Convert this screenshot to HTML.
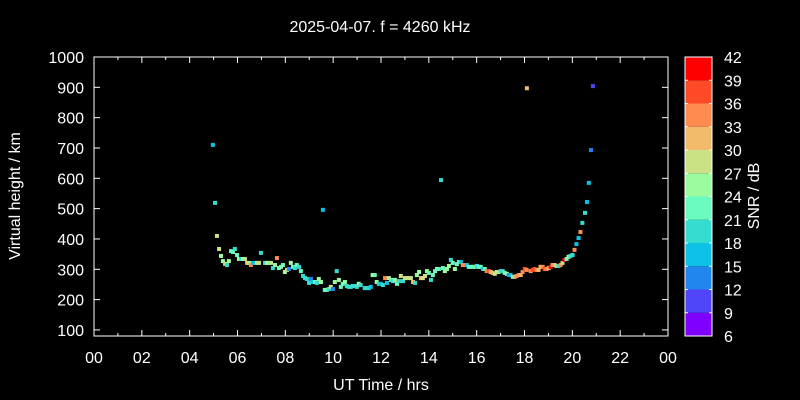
<!DOCTYPE html>
<html><head><meta charset="utf-8"><style>
html,body{margin:0;padding:0;background:#000;}
svg{display:block;font-family:"Liberation Sans",sans-serif;}
</style></head><body>
<svg id="chart" width="800" height="400" xmlns="http://www.w3.org/2000/svg">
<rect width="800" height="400" fill="#000"/>
<text x="380" y="32" fill="#fff" font-size="16" text-anchor="middle">2025-04-07. f = 4260 kHz</text>
<text x="381" y="390" fill="#fff" font-size="16" text-anchor="middle">UT Time / hrs</text>
<text transform="translate(20,196) rotate(-90)" fill="#fff" font-size="16" text-anchor="middle">Virtual height / km</text>
<text transform="translate(759,196) rotate(-90)" fill="#fff" font-size="16" text-anchor="middle">SNR / dB</text>
<g id="axes"></g><g id="marks"></g><g id="cbar"></g>
</svg>
<script>
const times=[4.97,5.06,5.14,5.23,5.31,5.39,5.48,5.56,5.64,5.73,5.81,5.89,5.98,6.06,6.15,6.23,6.31,6.40,6.48,6.56,6.65,6.73,6.81,6.90,6.98,7.15,7.23,7.32,7.40,7.48,7.57,7.65,7.73,7.82,7.90,7.98,8.07,8.15,8.23,8.32,8.40,8.48,8.57,8.65,8.74,8.82,8.90,8.99,9.07,9.15,9.24,9.32,9.40,9.49,9.57,9.65,9.74,9.82,9.90,9.99,10.07,10.15,10.24,10.32,10.40,10.49,10.57,10.65,10.74,10.82,10.90,10.99,11.07,11.15,11.32,11.40,11.49,11.57,11.65,11.74,11.82,11.91,11.99,12.08,12.17,12.25,12.33,12.42,12.50,12.58,12.67,12.75,12.83,12.92,13.00,13.09,13.17,13.25,13.34,13.42,13.50,13.59,13.67,13.75,13.84,13.92,14.00,14.09,14.17,14.26,14.34,14.42,14.51,14.59,14.67,14.76,14.84,14.92,15.00,15.09,15.17,15.26,15.34,15.42,15.51,15.59,15.67,15.76,15.84,15.92,16.01,16.09,16.17,16.26,16.34,16.42,16.51,16.59,16.67,16.76,16.84,16.92,17.01,17.09,17.17,17.26,17.34,17.42,17.51,17.59,17.67,17.76,17.84,17.92,18.01,18.09,18.10,18.26,18.34,18.42,18.51,18.59,18.67,18.76,18.84,18.92,19.01,19.09,19.17,19.26,19.34,19.42,19.51,19.59,19.67,19.76,19.84,19.92,20.01,20.09,20.17,20.26,20.34,20.42,20.53,20.61,20.69,20.78,20.86];
const heights=[710,519,410,367,344,327,318,314,327,360,357,367,347,334,334,334,334,321,321,314,321,321,321,321,354,321,321,321,321,304,314,337,304,308,314,291,298,301,321,308,304,314,308,294,278,271,268,255,268,258,258,255,268,258,496,232,232,235,242,235,258,294,265,242,252,258,245,242,242,245,245,242,252,248,238,238,238,242,281,281,258,252,252,248,271,255,271,265,261,265,252,261,278,261,271,271,271,271,258,255,281,291,271,271,278,294,288,265,281,294,301,301,594,304,294,301,311,331,321,301,317,324,324,314,314,314,308,308,308,308,311,308,308,301,301,294,294,291,288,285,291,291,294,294,288,285,281,281,275,275,278,281,281,291,301,298,897,294,298,301,298,298,308,308,301,301,304,308,314,314,311,311,314,321,331,334,341,344,347,364,383,403,423,453,486,522,585,693,904];
const snrs=[15,20,27,27,26,25,27,19,25,21,22,20,23,24,19,26,28,31,26,33,15,16,27,27,19,18,24,26,28,18,24,34,22,24,21,25,27,12,24,23,20,21,18,22,18,20,18,19,14,15,21,20,24,24,17,21,21,18,29,12,24,18,24,23,21,25,18,19,20,19,19,18,24,20,20,18,19,15,24,22,24,18,17,18,34,16,24,22,18,24,23,18,28,20,28,28,27,28,32,19,24,25,30,29,27,24,23,20,23,23,22,21,19,22,24,25,24,19,23,26,21,22,15,34,33,16,22,22,21,21,18,22,21,16,23,33,36,31,30,28,25,27,19,18,21,25,14,16,22,30,34,33,32,33,36,34,31,33,37,36,33,32,32,34,37,35,32,41,33,31,29,18,33,28,39,22,25,20,18,33,16,16,33,20,19,16,16,13,10];
const xTicks=["00","02","04","06","08","10","12","14","16","18","20","22","00"];
const yTicks=[100,200,300,400,500,600,700,800,900,1000];
const cbTicks=[6,9,12,15,18,21,24,27,30,33,36,39,42];
const cbColors=["#7f00ff","#5045f8","#2186ee","#0cc2e6","#35ddd0","#6cfbbf","#9cfa9f","#cbe185","#f2bb6b","#ff8b50","#ff4a27","#ff0000"];
const NS="http://www.w3.org/2000/svg";
const L=94,R=668,T=57,B=336;
const xs=t=>L+(t/24)*(R-L);
const ys=h=>B-(h-80)/(1000-80)*(B-T);
function mk(tag,at,parent){const e=document.createElementNS(NS,tag);for(const k in at)e.setAttribute(k,at[k]);parent.appendChild(e);return e;}
const ax=document.getElementById('axes');
const frame=mk('rect',{x:L,y:T,width:R-L,height:B-T,fill:'none',stroke:'#fff','stroke-width':1},ax);


xTicks.forEach((lab,i)=>{const x=xs(i*2);
 mk('line',{x1:x,y1:B,x2:x,y2:B-6,stroke:'#fff'},ax);mk('line',{x1:x,y1:T,x2:x,y2:T+6,stroke:'#fff'},ax);
 if(i<12){const xm=xs(i*2+1);mk('line',{x1:xm,y1:B,x2:xm,y2:B-3,stroke:'#fff'},ax);mk('line',{x1:xm,y1:T,x2:xm,y2:T+3,stroke:'#fff'},ax);}
 const t=mk('text',{x:x,y:363,fill:'#fff','font-size':16,'text-anchor':'middle'},ax);t.textContent=lab;
 
 });
yTicks.forEach(v=>{const y=ys(v);
 mk('line',{x1:L,y1:y,x2:L+6,y2:y,stroke:'#fff'},ax);mk('line',{x1:R,y1:y,x2:R-6,y2:y,stroke:'#fff'},ax);
 const t=mk('text',{x:84,y:y+6,fill:'#fff','font-size':16,'text-anchor':'end'},ax);t.textContent=v;
 
 });
function col(s){let i=Math.floor((s-6)/3);i=Math.max(0,Math.min(11,i));return cbColors[i];}
const mg=document.getElementById('marks');
times.forEach((t,i)=>{const r=mk('rect',{x:xs(t)-2,y:ys(heights[i])-2,width:4,height:4,fill:col(snrs[i])},mg);
 
 });
const cb=document.getElementById('cbar');
const CL=685,CR=712,bh=(B-T)/12;
cbColors.forEach((c,i)=>{const r=mk('rect',{x:CL,y:B-(i+1)*bh,width:CR-CL,height:bh,fill:c},cb);
 
 });
const cf=mk('rect',{x:CL,y:T,width:CR-CL,height:B-T,fill:'none',stroke:'#fff'},cb);


cbTicks.forEach((v,i)=>{const y=B-i*bh;
 mk('line',{x1:CL,y1:y,x2:CL+3,y2:y,stroke:'#fff'},cb);mk('line',{x1:CR,y1:y,x2:CR-3,y2:y,stroke:'#fff'},cb);
 const t=mk('text',{x:724,y:y+6,fill:'#fff','font-size':16},cb);t.textContent=v;
 
 });
</script>
</body></html>
